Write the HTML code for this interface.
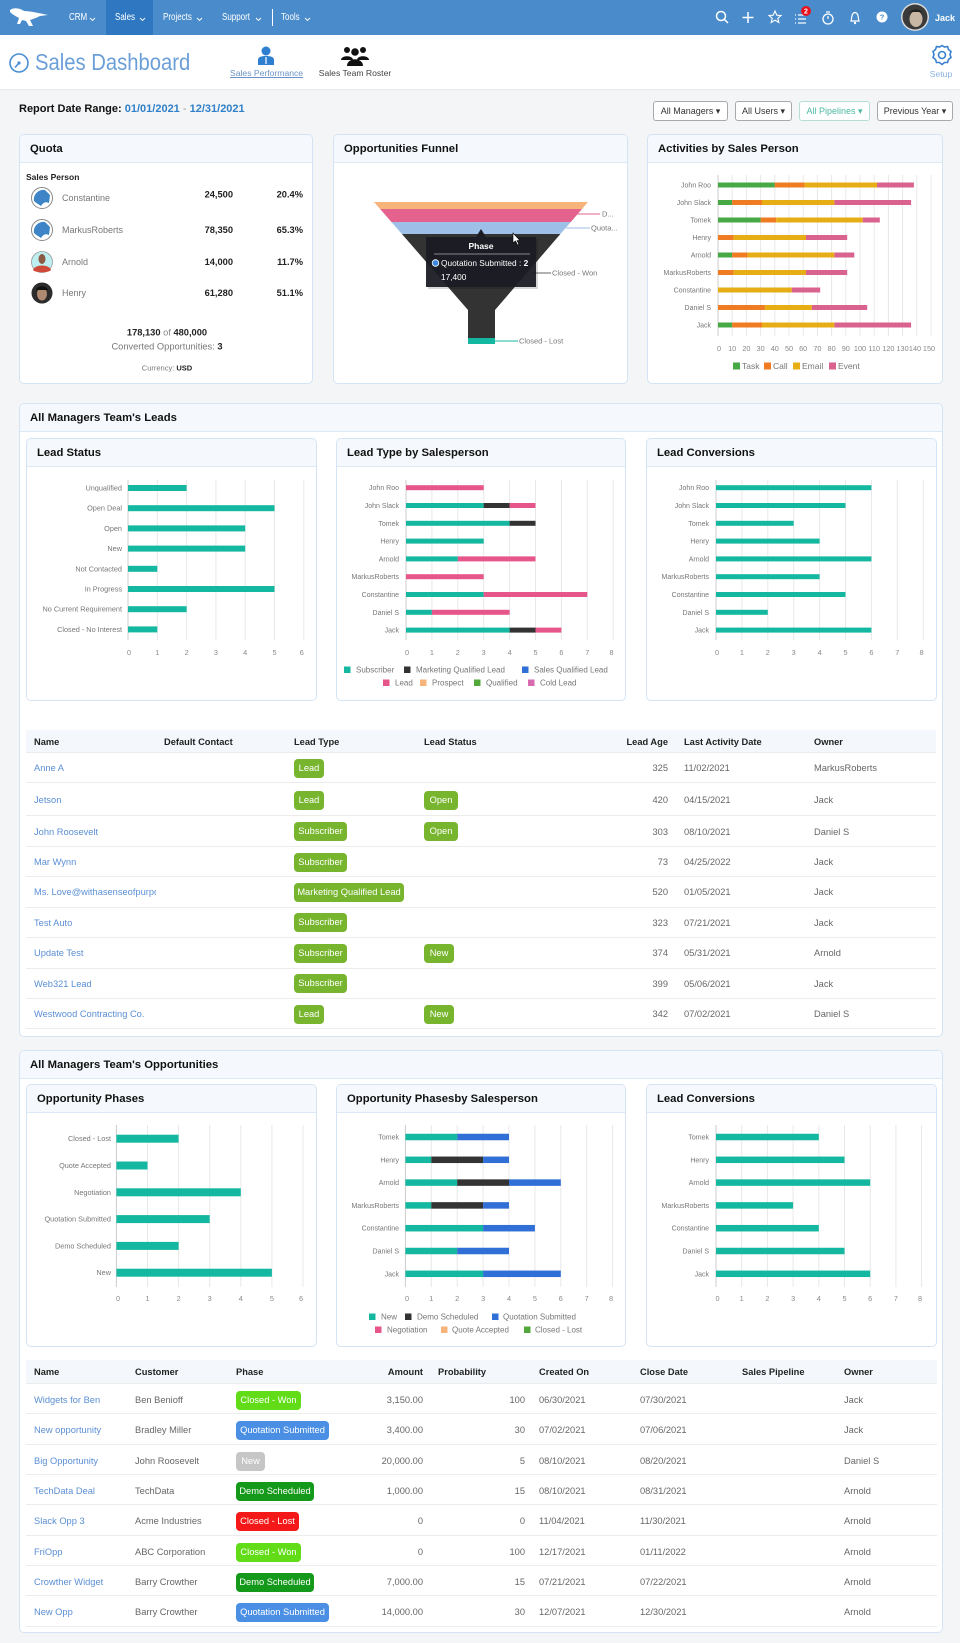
<!DOCTYPE html>
<html><head><meta charset="utf-8">
<style>
*{margin:0;padding:0;box-sizing:border-box}
body{width:960px;height:1643px;background:#f4f5f6;font-family:"Liberation Sans",sans-serif;position:relative;overflow:hidden;color:#333}
.a{position:absolute}
.nt{position:absolute;top:12px;color:#fff;font-size:10px;line-height:12px;white-space:nowrap;transform:scaleX(0.8);transform-origin:left top}
.panel{position:absolute;background:#fff;border:1px solid #d4e4f4;border-radius:5px;overflow:hidden}
.ph{position:absolute;left:0;top:0;right:0;height:28px;background:#f5f9fd;border-bottom:1px solid #dce9f6}
.pt{position:absolute;left:10px;top:0;line-height:28px;font-size:11.3px;font-weight:bold;color:#111;white-space:nowrap}
.c{position:absolute;font-size:9.3px;line-height:12px;white-space:nowrap;color:#666}
.l{color:#5b8fd4}
.h{font-weight:bold;color:#222}
.b{position:absolute;height:19px;line-height:19px;border-radius:4px;color:#fff;font-size:9.3px;text-align:center;white-space:nowrap}
.g{background:#78b52e}
.btn{position:absolute;top:101px;height:20px;line-height:18px;border:1px solid #a9a9a9;border-radius:3px;background:#fff;font-size:9px;color:#333;text-align:center;white-space:nowrap}
.row{position:absolute;left:26px;width:910px;border-bottom:1px solid #ececec}
</style></head><body>

<!-- NAV -->
<div class="a" style="left:0;top:0;width:960px;height:35px;background:#4a8ccb"></div>
<div class="a" style="left:106px;top:0;width:47px;height:35px;background:#2f78c1"></div>
<div class="nt" style="left:69px">CRM</div>
<div class="nt" style="left:115px">Sales</div>
<div class="nt" style="left:163px">Projects</div>
<div class="nt" style="left:222px">Support</div>
<div class="a" style="left:272px;top:9px;width:1px;height:17px;background:#fff"></div>
<div class="nt" style="left:281px">Tools</div>
<div class="a" style="left:935px;top:12px;color:#fff;font-weight:bold;font-size:9px;line-height:12px">Jack</div>

<!-- header -->
<div class="a" style="left:0;top:35px;width:960px;height:55px;background:#fff;border-bottom:1px solid #e8e8e8"></div>
<div class="a" style="left:35px;top:48px;font-size:23px;color:#6a9fd8;white-space:nowrap;transform:scaleX(0.88);transform-origin:left top;line-height:28px">Sales Dashboard</div>
<div class="a" style="left:230px;top:68px;width:72px;text-align:center;font-size:8.6px;color:#6b93c7;text-decoration:underline;white-space:nowrap">Sales Performance</div>
<div class="a" style="left:318px;top:68px;width:74px;text-align:center;font-size:8.6px;color:#444;white-space:nowrap">Sales Team Roster</div>
<div class="a" style="left:926px;top:69px;width:30px;text-align:center;font-size:8.6px;color:#8ab0de">Setup</div>

<div class="a" style="left:19px;top:103px;font-size:11px;font-weight:bold;color:#111;white-space:nowrap">Report Date Range: <span style="color:#2f80c8">01/01/2021</span> <span style="color:#999;font-weight:normal">-</span> <span style="color:#2f80c8">12/31/2021</span></div>

<div class="btn" style="left:653px;width:75px">All Managers &#9662;</div>
<div class="btn" style="left:735px;width:57px">All Users &#9662;</div>
<div class="btn" style="left:799px;width:71px;color:#4cb8a4;border-color:#b5dfd6">All Pipelines &#9662;</div>
<div class="btn" style="left:877px;width:76px">Previous Year &#9662;</div>

<!-- TOP PANELS -->
<div class="panel" style="left:19px;top:134px;width:294px;height:250px"><div class="ph"></div><div class="pt">Quota</div></div>
<div class="panel" style="left:333px;top:134px;width:295px;height:250px"><div class="ph"></div><div class="pt">Opportunities Funnel</div></div>
<div class="panel" style="left:647px;top:134px;width:296px;height:250px"><div class="ph"></div><div class="pt">Activities by Sales Person</div></div>

<!-- LEADS SECTION -->
<div class="panel" style="left:19px;top:403px;width:924px;height:634px"><div class="ph"></div><div class="pt">All Managers Team's Leads</div></div>
<div class="panel" style="left:26px;top:438px;width:291px;height:263px"><div class="ph"></div><div class="pt">Lead Status</div></div>
<div class="panel" style="left:336px;top:438px;width:290px;height:263px"><div class="ph"></div><div class="pt">Lead Type by Salesperson</div></div>
<div class="panel" style="left:646px;top:438px;width:291px;height:263px"><div class="ph"></div><div class="pt">Lead Conversions</div></div>

<!-- leads table -->
<div class="a" style="left:26px;top:730px;width:910px;height:23px;background:#f4f8fc;border-bottom:1px solid #ececec"></div>
<div class="c h" style="left:34px;top:736px">Name</div>
<div class="c h" style="left:164px;top:736px">Default Contact</div>
<div class="c h" style="left:294px;top:736px">Lead Type</div>
<div class="c h" style="left:424px;top:736px">Lead Status</div>
<div class="c h" style="right:292px;top:736px">Lead Age</div>
<div class="c h" style="left:684px;top:736px">Last Activity Date</div>
<div class="c h" style="left:814px;top:736px">Owner</div>

<div class="row" style="top:753px;height:30px"></div>
<div class="row" style="top:783px;height:33px"></div>
<div class="row" style="top:816px;height:30.5px"></div>
<div class="row" style="top:846.5px;height:30.5px"></div>
<div class="row" style="top:877px;height:30.5px"></div>
<div class="row" style="top:907.5px;height:30.5px"></div>
<div class="row" style="top:938px;height:30.5px"></div>
<div class="row" style="top:968.5px;height:30.5px"></div>
<div class="row" style="top:999px;height:30px"></div>

<div class="c l" style="left:34px;top:762px">Anne A</div>
<div class="b g" style="left:294px;top:758.5px;width:30px">Lead</div>
<div class="c" style="right:292px;top:762px">325</div><div class="c" style="left:684px;top:762px">11/02/2021</div><div class="c" style="left:814px;top:762px">MarkusRoberts</div>

<div class="c l" style="left:34px;top:794px">Jetson</div>
<div class="b g" style="left:294px;top:790.5px;width:30px">Lead</div>
<div class="b g" style="left:424px;top:790.5px;width:34px">Open</div>
<div class="c" style="right:292px;top:794px">420</div><div class="c" style="left:684px;top:794px">04/15/2021</div><div class="c" style="left:814px;top:794px">Jack</div>

<div class="c l" style="left:34px;top:825.5px">John Roosevelt</div>
<div class="b g" style="left:294px;top:822px;width:53px">Subscriber</div>
<div class="b g" style="left:424px;top:822px;width:34px">Open</div>
<div class="c" style="right:292px;top:825.5px">303</div><div class="c" style="left:684px;top:825.5px">08/10/2021</div><div class="c" style="left:814px;top:825.5px">Daniel S</div>

<div class="c l" style="left:34px;top:856px">Mar Wynn</div>
<div class="b g" style="left:294px;top:852.5px;width:53px">Subscriber</div>
<div class="c" style="right:292px;top:856px">73</div><div class="c" style="left:684px;top:856px">04/25/2022</div><div class="c" style="left:814px;top:856px">Jack</div>

<div class="c l" style="left:34px;top:886px;width:122px;overflow:hidden">Ms. Love@withasenseofpurpose</div>
<div class="b g" style="left:294px;top:882.5px;width:110px">Marketing Qualified Lead</div>
<div class="c" style="right:292px;top:886px">520</div><div class="c" style="left:684px;top:886px">01/05/2021</div><div class="c" style="left:814px;top:886px">Jack</div>

<div class="c l" style="left:34px;top:916.5px">Test Auto</div>
<div class="b g" style="left:294px;top:913px;width:53px">Subscriber</div>
<div class="c" style="right:292px;top:916.5px">323</div><div class="c" style="left:684px;top:916.5px">07/21/2021</div><div class="c" style="left:814px;top:916.5px">Jack</div>

<div class="c l" style="left:34px;top:947px">Update Test</div>
<div class="b g" style="left:294px;top:943.5px;width:53px">Subscriber</div>
<div class="b g" style="left:424px;top:943.5px;width:30px">New</div>
<div class="c" style="right:292px;top:947px">374</div><div class="c" style="left:684px;top:947px">05/31/2021</div><div class="c" style="left:814px;top:947px">Arnold</div>

<div class="c l" style="left:34px;top:977.5px">Web321 Lead</div>
<div class="b g" style="left:294px;top:974px;width:53px">Subscriber</div>
<div class="c" style="right:292px;top:977.5px">399</div><div class="c" style="left:684px;top:977.5px">05/06/2021</div><div class="c" style="left:814px;top:977.5px">Jack</div>

<div class="c l" style="left:34px;top:1008px">Westwood Contracting Co.</div>
<div class="b g" style="left:294px;top:1004.5px;width:30px">Lead</div>
<div class="b g" style="left:424px;top:1004.5px;width:30px">New</div>
<div class="c" style="right:292px;top:1008px">342</div><div class="c" style="left:684px;top:1008px">07/02/2021</div><div class="c" style="left:814px;top:1008px">Daniel S</div>

<!-- OPPORTUNITIES SECTION -->
<div class="panel" style="left:19px;top:1050px;width:924px;height:583px"><div class="ph"></div><div class="pt">All Managers Team's Opportunities</div></div>
<div class="panel" style="left:26px;top:1084px;width:291px;height:263px"><div class="ph"></div><div class="pt">Opportunity Phases</div></div>
<div class="panel" style="left:336px;top:1084px;width:290px;height:263px"><div class="ph"></div><div class="pt">Opportunity Phasesby Salesperson</div></div>
<div class="panel" style="left:646px;top:1084px;width:291px;height:263px"><div class="ph"></div><div class="pt">Lead Conversions</div></div>

<div class="a" style="left:26px;top:1360px;width:911px;height:24px;background:#f4f8fc;border-bottom:1px solid #ececec"></div>
<div class="c h" style="left:34px;top:1366px">Name</div>
<div class="c h" style="left:135px;top:1366px">Customer</div>
<div class="c h" style="left:236px;top:1366px">Phase</div>
<div class="c h" style="right:537px;top:1366px">Amount</div>
<div class="c h" style="left:438px;top:1366px">Probability</div>
<div class="c h" style="left:539px;top:1366px">Created On</div>
<div class="c h" style="left:640px;top:1366px">Close Date</div>
<div class="c h" style="left:742px;top:1366px">Sales Pipeline</div>
<div class="c h" style="left:844px;top:1366px">Owner</div>

<div class="row" style="top:1384px;height:30.3px;width:911px"></div>
<div class="row" style="top:1414.3px;height:30.4px;width:911px"></div>
<div class="row" style="top:1444.7px;height:30.3px;width:911px"></div>
<div class="row" style="top:1475px;height:30.3px;width:911px"></div>
<div class="row" style="top:1505.3px;height:30.4px;width:911px"></div>
<div class="row" style="top:1535.7px;height:30.3px;width:911px"></div>
<div class="row" style="top:1566px;height:30.3px;width:911px"></div>
<div class="row" style="top:1596.3px;height:30.7px;width:911px"></div>

<div class="c l" style="left:34px;top:1393.7px">Widgets for Ben</div><div class="c" style="left:135px;top:1393.7px">Ben Benioff</div>
<div class="b" style="left:236px;top:1390.5px;width:65px;background:#62dc16">Closed - Won</div>
<div class="c" style="right:537px;top:1393.7px">3,150.00</div><div class="c" style="right:435px;top:1393.7px">100</div><div class="c" style="left:539px;top:1393.7px">06/30/2021</div><div class="c" style="left:640px;top:1393.7px">07/30/2021</div><div class="c" style="left:844px;top:1393.7px">Jack</div>

<div class="c l" style="left:34px;top:1424px">New opportunity</div><div class="c" style="left:135px;top:1424px">Bradley Miller</div>
<div class="b" style="left:236px;top:1420.8px;width:93px;background:#4a8fe4">Quotation Submitted</div>
<div class="c" style="right:537px;top:1424px">3,400.00</div><div class="c" style="right:435px;top:1424px">30</div><div class="c" style="left:539px;top:1424px">07/02/2021</div><div class="c" style="left:640px;top:1424px">07/06/2021</div><div class="c" style="left:844px;top:1424px">Jack</div>

<div class="c l" style="left:34px;top:1454.7px">Big Opportunity</div><div class="c" style="left:135px;top:1454.7px">John Roosevelt</div>
<div class="b" style="left:236px;top:1451.5px;width:29px;background:#c6c6c6">New</div>
<div class="c" style="right:537px;top:1454.7px">20,000.00</div><div class="c" style="right:435px;top:1454.7px">5</div><div class="c" style="left:539px;top:1454.7px">08/10/2021</div><div class="c" style="left:640px;top:1454.7px">08/20/2021</div><div class="c" style="left:844px;top:1454.7px">Daniel S</div>

<div class="c l" style="left:34px;top:1485px">TechData Deal</div><div class="c" style="left:135px;top:1485px">TechData</div>
<div class="b" style="left:236px;top:1481.8px;width:78px;background:#14991a">Demo Scheduled</div>
<div class="c" style="right:537px;top:1485px">1,000.00</div><div class="c" style="right:435px;top:1485px">15</div><div class="c" style="left:539px;top:1485px">08/10/2021</div><div class="c" style="left:640px;top:1485px">08/31/2021</div><div class="c" style="left:844px;top:1485px">Arnold</div>

<div class="c l" style="left:34px;top:1515.3px">Slack Opp 3</div><div class="c" style="left:135px;top:1515.3px">Acme Industries</div>
<div class="b" style="left:236px;top:1512px;width:63px;background:#f41818">Closed - Lost</div>
<div class="c" style="right:537px;top:1515.3px">0</div><div class="c" style="right:435px;top:1515.3px">0</div><div class="c" style="left:539px;top:1515.3px">11/04/2021</div><div class="c" style="left:640px;top:1515.3px">11/30/2021</div><div class="c" style="left:844px;top:1515.3px">Arnold</div>

<div class="c l" style="left:34px;top:1546px">FriOpp</div><div class="c" style="left:135px;top:1546px">ABC Corporation</div>
<div class="b" style="left:236px;top:1542.8px;width:65px;background:#62dc16">Closed - Won</div>
<div class="c" style="right:537px;top:1546px">0</div><div class="c" style="right:435px;top:1546px">100</div><div class="c" style="left:539px;top:1546px">12/17/2021</div><div class="c" style="left:640px;top:1546px">01/11/2022</div><div class="c" style="left:844px;top:1546px">Arnold</div>

<div class="c l" style="left:34px;top:1576.3px">Crowther Widget</div><div class="c" style="left:135px;top:1576.3px">Barry Crowther</div>
<div class="b" style="left:236px;top:1573px;width:78px;background:#14991a">Demo Scheduled</div>
<div class="c" style="right:537px;top:1576.3px">7,000.00</div><div class="c" style="right:435px;top:1576.3px">15</div><div class="c" style="left:539px;top:1576.3px">07/21/2021</div><div class="c" style="left:640px;top:1576.3px">07/22/2021</div><div class="c" style="left:844px;top:1576.3px">Arnold</div>

<div class="c l" style="left:34px;top:1606.3px">New Opp</div><div class="c" style="left:135px;top:1606.3px">Barry Crowther</div>
<div class="b" style="left:236px;top:1603px;width:93px;background:#4a8fe4">Quotation Submitted</div>
<div class="c" style="right:537px;top:1606.3px">14,000.00</div><div class="c" style="right:435px;top:1606.3px">30</div><div class="c" style="left:539px;top:1606.3px">12/07/2021</div><div class="c" style="left:640px;top:1606.3px">12/30/2021</div><div class="c" style="left:844px;top:1606.3px">Arnold</div>

<!-- SVG OVERLAY -->
<svg class="a" style="left:0;top:0" width="960" height="1643" viewBox="0 0 960 1643" font-family="Liberation Sans, sans-serif">
<!-- nav chevrons -->
<g fill="none" stroke="#fff" stroke-width="0.9">
<polyline points="90,18 92.5,20.5 95,18"/><polyline points="140,18 142.5,20.5 145,18"/><polyline points="197,18 199.5,20.5 202,18"/><polyline points="256,18 258.5,20.5 261,18"/><polyline points="305,18 307.5,20.5 310,18"/>
</g>
<!-- logo -->
<path d="M10,10 C14,7 20,8 24,11 C30,11 38,13 48,15 L40,16 C36,18 33,19 30,20 L33,26 L29,26 L26,21 L22,20 L20,24 L17,24 L19,18 C15,16 12,14 10,12 Z" fill="#fff"/>
<!-- right icons -->
<g fill="none" stroke="#fff" stroke-width="1.5">
<circle cx="721" cy="16" r="4.5"/><line x1="724.5" y1="19.5" x2="728" y2="23"/>
<line x1="748" y1="12" x2="748" y2="23"/><line x1="742.5" y1="17.5" x2="753.5" y2="17.5"/>
<polygon stroke-width="1.1" points="775,11 776.8,15.2 781,15.5 777.8,18.3 778.8,22.5 775,20.2 771.2,22.5 772.2,18.3 769,15.5 773.2,15.2"/>
<g stroke-width="1.2"><line x1="798" y1="15" x2="806" y2="15"/><line x1="798" y1="19" x2="806" y2="19"/><line x1="798" y1="23" x2="806" y2="23"/><line x1="795" y1="15" x2="796" y2="15"/><line x1="795" y1="19" x2="796" y2="19"/><line x1="795" y1="23" x2="796" y2="23"/></g>
<circle cx="828" cy="19" r="5" stroke-width="1.3"/><line x1="828" y1="19" x2="828" y2="16" stroke-width="1.2"/><line x1="826" y1="12" x2="830" y2="12" stroke-width="1.2"/>
<path d="M851,21 C852,19 851,13 855,12.5 C859,13 858,19 859,21 Z" stroke-width="1.2"/>
</g>
<circle cx="806" cy="11" r="5" fill="#e8121d"/><text x="806" y="13.5" font-size="7" fill="#fff" text-anchor="middle" font-weight="bold">2</text>
<circle cx="855" cy="23" r="1.2" fill="#fff"/>
<circle cx="882" cy="17" r="5.5" fill="#fff"/><text x="882" y="19.6" font-size="7.5" fill="#4a8ccb" text-anchor="middle" font-weight="bold">?</text>
<circle cx="915" cy="17" r="14" fill="#d9d9d9"/><circle cx="915" cy="17" r="12.5" fill="#3a3a3a"/><ellipse cx="916" cy="19" rx="6.5" ry="8" fill="#c9b7a6"/><path d="M909,14 C910,8 922,8 923,14 L921,12 L911,12 Z" fill="#222"/>
<!-- header icons -->
<circle cx="19" cy="63" r="9" fill="none" stroke="#4a8fd4" stroke-width="1.6"/><line x1="19" y1="63" x2="15" y2="67.5" stroke="#4a8fd4" stroke-width="1.6"/><circle cx="19" cy="63" r="1.6" fill="#4a8fd4"/>
<circle cx="266" cy="51" r="4.5" fill="#2e7fd0"/><path d="M258,65 L258,60 C258,57 261,56 266,56 C271,56 274,57 274,60 L274,65 Z" fill="#2e7fd0"/><line x1="266" y1="57" x2="266" y2="64" stroke="#fff" stroke-width="1.2"/>
<g fill="#111"><circle cx="347" cy="50" r="3"/><circle cx="363" cy="50" r="3"/><circle cx="355" cy="52" r="3.8"/><path d="M341,60 C341,55 353,55 353,60 Z"/><path d="M357,60 C357,55 369,55 369,60 Z"/><path d="M347,66 C347,57 363,57 363,66 Z"/></g>
<g fill="none" stroke="#3a80d0" stroke-width="1.6"><circle cx="942" cy="55" r="3.5"/><path d="M942,45.5 L944.5,47 L947.5,46.5 L948.5,49.5 L951,51.5 L950,54.5 L951,57.5 L948.5,59.5 L947.5,62.5 L944.5,62.5 L942,64.5 L939.5,62.5 L936.5,62.5 L935.5,59.5 L933,57.5 L934,54.5 L933,51.5 L935.5,49.5 L936.5,46.5 L939.5,47 Z"/></g>

<!-- QUOTA -->
<text x="26" y="180" font-size="8.5" font-weight="bold" fill="#222">Sales Person</text>
<circle cx="42" cy="198" r="10.5" fill="#fff" stroke="#888" stroke-width="1"/><path d="M34,201 C33,193 40,189 45,190 L50,195 L49,203 C45,201 43,203 41,206 C38,204 36,203 34,201 Z" fill="#3d85c6"/>
<circle cx="42" cy="230" r="10.5" fill="#fff" stroke="#888" stroke-width="1"/><path d="M34,233 C33,225 40,221 45,222 L50,227 L49,235 C45,233 43,235 41,238 C38,236 36,235 34,233 Z" fill="#3d85c6"/>
<circle cx="42" cy="262" r="10.5" fill="#bdeef0" stroke="#999" stroke-width="0.8"/><path d="M33,270 C35,264 49,264 51,270 C49,273 35,273 33,270 Z" fill="#d04a3a"/><ellipse cx="42" cy="259" rx="3.5" ry="5" fill="#8a5a44"/>
<circle cx="42" cy="293" r="10.5" fill="#2c2c2c"/><ellipse cx="42" cy="294" rx="5" ry="6.5" fill="#b08a70"/><path d="M36,290 C37,285 47,285 48,290 Z" fill="#111"/>
<g font-size="9" fill="#777"><text x="62" y="201">Constantine</text><text x="62" y="233">MarkusRoberts</text><text x="62" y="265">Arnold</text><text x="62" y="296">Henry</text></g>
<g font-size="9.3" fill="#222" font-weight="bold" text-anchor="end">
<text x="233" y="197.5">24,500</text><text x="233" y="233">78,350</text><text x="233" y="265">14,000</text><text x="233" y="296">61,280</text>
<text x="303" y="197.5">20.4%</text><text x="303" y="233">65.3%</text><text x="303" y="265">11.7%</text><text x="303" y="296">51.1%</text>
</g>
<text x="167" y="335.5" font-size="9.3" text-anchor="middle" fill="#222" font-weight="bold">178,130 <tspan font-weight="normal" fill="#888">of</tspan> 480,000</text>
<text x="167" y="349.5" font-size="9.3" text-anchor="middle" fill="#777">Converted Opportunities: <tspan font-weight="bold" fill="#222">3</tspan></text>
<text x="167" y="370.5" font-size="7.5" text-anchor="middle" fill="#777">Currency: <tspan font-weight="bold" fill="#222">USD</tspan></text>

<!-- FUNNEL -->
<polygon points="374,202 588,202 582,209 380.1,209" fill="#f6b47a"/>
<polygon points="380.1,209 582,209 570.8,222 391.4,222" fill="#e4628d"/>
<polygon points="391.4,222 570.8,222 560.4,234 401.9,234" fill="#9dbfe8"/>
<polygon points="401.9,234 560.4,234 495,310 495,338 468,338 468,310" fill="#333"/>
<rect x="468" y="338" width="27" height="6" fill="#14b8a0"/>
<g stroke-width="1"><line x1="566" y1="214" x2="600" y2="214" stroke="#e4628d"/><line x1="566" y1="228" x2="590" y2="228" stroke="#9dbfe8"/><line x1="532" y1="273" x2="551" y2="273" stroke="#666"/><line x1="495" y1="341" x2="518" y2="341" stroke="#14b8a0"/></g>
<g font-size="7.5" fill="#777"><text x="602" y="216.5">D...</text><text x="591" y="230.5">Quota...</text><text x="552" y="275.5">Closed - Won</text><text x="519" y="343.5">Closed - Lost</text></g>
<rect x="428" y="239" width="110" height="50" fill="#000" opacity="0.15"/>
<rect x="426" y="237" width="110" height="50" fill="#1c1d24" opacity="0.94"/>
<polygon points="476,237 481,229 486,237" fill="#1c1d24"/>
<text x="481" y="249" font-size="8.5" font-weight="bold" fill="#fff" text-anchor="middle">Phase</text>
<line x1="434" y1="254" x2="530" y2="254" stroke="#888" stroke-width="1"/>
<circle cx="435.5" cy="263" r="3.3" fill="#3a86e0" stroke="#fff" stroke-width="0.8"/>
<text x="441" y="266" font-size="8.3" fill="#fff">Quotation Submitted : <tspan font-weight="bold">2</tspan></text>
<text x="441" y="280" font-size="8.3" fill="#fff">17,400</text>
<path d="M513,233 L513,243 L515.5,241 L517.5,245 L519,244.3 L517,240.5 L520,240.5 Z" fill="#fff" stroke="#000" stroke-width="0.6"/>

<!-- ACTIVITIES -->
<path d="M732.2,175V336M746.4,175V336M760.6,175V336M774.8,175V336M789,175V336M803.2,175V336M817.4,175V336M831.6,175V336M845.8,175V336M860,175V336M874.2,175V336M888.4,175V336M902.6,175V336M916.8,175V336M931,175V336" stroke="#e8e8e8" stroke-width="1"/>
<path d="M718,175V336" stroke="#ccc" stroke-width="1"/>
<g font-size="7" fill="#777" text-anchor="end">
<text x="711" y="187.5">John Roo</text><text x="711" y="205">John Slack</text><text x="711" y="222.5">Tomek</text><text x="711" y="240">Henry</text><text x="711" y="257.5">Arnold</text><text x="711" y="275">MarkusRoberts</text><text x="711" y="292.5">Constantine</text><text x="711" y="310">Daniel S</text><text x="711" y="327.5">Jack</text>
</g>
<g font-size="7.3" fill="#888" text-anchor="middle">
<text x="719" y="351">0</text><text x="732.2" y="351">10</text><text x="746.4" y="351">20</text><text x="760.6" y="351">30</text><text x="774.8" y="351">40</text><text x="789" y="351">50</text><text x="803.2" y="351">60</text><text x="817.4" y="351">70</text><text x="831.6" y="351">80</text><text x="845.8" y="351">90</text><text x="860" y="351">100</text><text x="874.2" y="351">110</text><text x="888.4" y="351">120</text><text x="902.6" y="351">130</text><text x="915" y="351">140</text><text x="929" y="351">150</text>
</g>
<g>
<rect x="718" y="182.5" width="56.8" height="5" fill="#47a945"/><rect x="774.8" y="182.5" width="29.8" height="5" fill="#ef7b22"/><rect x="804.6" y="182.5" width="72.4" height="5" fill="#e6ad14"/><rect x="877" y="182.5" width="36.9" height="5" fill="#d9628e"/>
<rect x="718" y="200" width="14.2" height="5" fill="#47a945"/><rect x="732.2" y="200" width="29.8" height="5" fill="#ef7b22"/><rect x="762" y="200" width="72.4" height="5" fill="#e6ad14"/><rect x="834.4" y="200" width="76.7" height="5" fill="#d9628e"/>
<rect x="718" y="217.5" width="42.6" height="5" fill="#47a945"/><rect x="760.6" y="217.5" width="15.6" height="5" fill="#ef7b22"/><rect x="776.2" y="217.5" width="86.6" height="5" fill="#e6ad14"/><rect x="862.8" y="217.5" width="17" height="5" fill="#d9628e"/>
<rect x="718" y="235" width="15.6" height="5" fill="#ef7b22"/><rect x="733.6" y="235" width="72.4" height="5" fill="#e6ad14"/><rect x="806" y="235" width="41.2" height="5" fill="#d9628e"/>
<rect x="718" y="252.5" width="14.2" height="5" fill="#47a945"/><rect x="732.2" y="252.5" width="15.6" height="5" fill="#ef7b22"/><rect x="747.8" y="252.5" width="86.6" height="5" fill="#e6ad14"/><rect x="834.4" y="252.5" width="19.9" height="5" fill="#d9628e"/>
<rect x="718" y="270" width="15.6" height="5" fill="#ef7b22"/><rect x="733.6" y="270" width="72.4" height="5" fill="#e6ad14"/><rect x="806" y="270" width="41.2" height="5" fill="#d9628e"/>
<rect x="718" y="287.5" width="73.8" height="5" fill="#e6ad14"/><rect x="791.8" y="287.5" width="28.4" height="5" fill="#d9628e"/>
<rect x="718" y="305" width="46.9" height="5" fill="#ef7b22"/><rect x="764.9" y="305" width="46.9" height="5" fill="#e6ad14"/><rect x="811.8" y="305" width="55.4" height="5" fill="#d9628e"/>
<rect x="718" y="322.5" width="14.2" height="5" fill="#47a945"/><rect x="732.2" y="322.5" width="29.8" height="5" fill="#ef7b22"/><rect x="762" y="322.5" width="72.4" height="5" fill="#e6ad14"/><rect x="834.4" y="322.5" width="76.7" height="5" fill="#d9628e"/>
</g>
<g font-size="8.5" fill="#777">
<rect x="733" y="362.5" width="7" height="7" fill="#47a945"/><text x="742" y="369">Task</text>
<rect x="764" y="362.5" width="7" height="7" fill="#ef7b22"/><text x="773" y="369">Call</text>
<rect x="793" y="362.5" width="7" height="7" fill="#e6ad14"/><text x="802" y="369">Email</text>
<rect x="829" y="362.5" width="7" height="7" fill="#d9628e"/><text x="838" y="369">Event</text>
</g>

<!-- LEAD STATUS -->
<path d="M157.3,480V640M186.6,480V640M215.9,480V640M245.2,480V640M274.5,480V640M303.8,480V640" stroke="#e8e8e8" stroke-width="1"/>
<path d="M128,480V640" stroke="#ccc"/>
<g font-size="7.3" fill="#777" text-anchor="end">
<text x="122" y="490.5">Unqualified</text><text x="122" y="510.7">Open Deal</text><text x="122" y="530.9">Open</text><text x="122" y="551.1">New</text><text x="122" y="571.3">Not Contacted</text><text x="122" y="591.5">In Progress</text><text x="122" y="611.7">No Current Requirement</text><text x="122" y="631.9">Closed - No Interest</text>
</g>
<g fill="#14b8a0">
<rect x="128" y="485" width="58.6" height="6"/><rect x="128" y="505.2" width="146.5" height="6"/><rect x="128" y="525.4" width="117.2" height="6"/><rect x="128" y="545.6" width="117.2" height="6"/><rect x="128" y="565.8" width="29.3" height="6"/><rect x="128" y="586" width="146.5" height="6"/><rect x="128" y="606.2" width="58.6" height="6"/><rect x="128" y="626.4" width="29.3" height="6"/>
</g>
<g font-size="7.3" fill="#888" text-anchor="middle">
<text x="129" y="655">0</text><text x="157.3" y="655">1</text><text x="186.6" y="655">2</text><text x="215.9" y="655">3</text><text x="245.2" y="655">4</text><text x="274.5" y="655">5</text><text x="301.8" y="655">6</text>
</g>

<!-- LEAD TYPE -->
<path d="M431.9,480V640M457.8,480V640M483.7,480V640M509.6,480V640M535.5,480V640M561.4,480V640M587.3,480V640M613.2,480V640" stroke="#e8e8e8"/>
<path d="M406,480V640" stroke="#ccc"/>
<g font-size="7" fill="#777" text-anchor="end">
<text x="399" y="490.2">John Roo</text><text x="399" y="508">John Slack</text><text x="399" y="525.8">Tomek</text><text x="399" y="543.6">Henry</text><text x="399" y="561.4">Arnold</text><text x="399" y="579.2">MarkusRoberts</text><text x="399" y="597">Constantine</text><text x="399" y="614.8">Daniel S</text><text x="399" y="632.6">Jack</text>
</g>
<g>
<rect x="406" y="485.2" width="77.7" height="5" fill="#e7568a"/>
<rect x="406" y="503" width="77.7" height="5" fill="#14b8a0"/><rect x="483.7" y="503" width="25.9" height="5" fill="#333"/><rect x="509.6" y="503" width="25.9" height="5" fill="#e7568a"/>
<rect x="406" y="520.8" width="103.6" height="5" fill="#14b8a0"/><rect x="509.6" y="520.8" width="25.9" height="5" fill="#333"/>
<rect x="406" y="538.6" width="77.7" height="5" fill="#14b8a0"/>
<rect x="406" y="556.4" width="51.8" height="5" fill="#14b8a0"/><rect x="457.8" y="556.4" width="77.7" height="5" fill="#e7568a"/>
<rect x="406" y="574.2" width="77.7" height="5" fill="#e7568a"/>
<rect x="406" y="592" width="77.7" height="5" fill="#14b8a0"/><rect x="483.7" y="592" width="103.6" height="5" fill="#e7568a"/>
<rect x="406" y="609.8" width="25.9" height="5" fill="#14b8a0"/><rect x="431.9" y="609.8" width="77.7" height="5" fill="#e7568a"/>
<rect x="406" y="627.6" width="103.6" height="5" fill="#14b8a0"/><rect x="509.6" y="627.6" width="25.9" height="5" fill="#333"/><rect x="535.5" y="627.6" width="25.9" height="5" fill="#e7568a"/>
</g>
<g font-size="7.3" fill="#888" text-anchor="middle">
<text x="407" y="655">0</text><text x="431.9" y="655">1</text><text x="457.8" y="655">2</text><text x="483.7" y="655">3</text><text x="509.6" y="655">4</text><text x="535.5" y="655">5</text><text x="561.4" y="655">6</text><text x="587.3" y="655">7</text><text x="611.5" y="655">8</text>
</g>
<g font-size="8" fill="#777">
<rect x="344" y="666.5" width="6.5" height="6.5" fill="#14b8a0"/><text x="356" y="672.5">Subscriber</text>
<rect x="404" y="666.5" width="6.5" height="6.5" fill="#333"/><text x="416" y="672.5">Marketing Qualified Lead</text>
<rect x="522" y="666.5" width="6.5" height="6.5" fill="#2f6fd6"/><text x="534" y="672.5">Sales Qualified Lead</text>
<rect x="383" y="679.5" width="6.5" height="6.5" fill="#e7568a"/><text x="395" y="685.5">Lead</text>
<rect x="420" y="679.5" width="6.5" height="6.5" fill="#f6b47a"/><text x="432" y="685.5">Prospect</text>
<rect x="474" y="679.5" width="6.5" height="6.5" fill="#52a83a"/><text x="486" y="685.5">Qualified</text>
<rect x="528" y="679.5" width="6.5" height="6.5" fill="#d86ab0"/><text x="540" y="685.5">Cold Lead</text>
</g>

<!-- LEAD CONVERSIONS -->
<path d="M741.9,480V640M767.8,480V640M793.7,480V640M819.6,480V640M845.5,480V640M871.4,480V640M897.3,480V640M923.2,480V640" stroke="#e8e8e8"/>
<path d="M716,480V640" stroke="#ccc"/>
<g font-size="7" fill="#777" text-anchor="end">
<text x="709" y="490.2">John Roo</text><text x="709" y="508">John Slack</text><text x="709" y="525.8">Tomek</text><text x="709" y="543.6">Henry</text><text x="709" y="561.4">Arnold</text><text x="709" y="579.2">MarkusRoberts</text><text x="709" y="597">Constantine</text><text x="709" y="614.8">Daniel S</text><text x="709" y="632.6">Jack</text>
</g>
<g fill="#14b8a0">
<rect x="716" y="485.2" width="155.4" height="5"/><rect x="716" y="503" width="129.5" height="5"/><rect x="716" y="520.8" width="77.7" height="5"/><rect x="716" y="538.6" width="103.6" height="5"/><rect x="716" y="556.4" width="155.4" height="5"/><rect x="716" y="574.2" width="103.6" height="5"/><rect x="716" y="592" width="129.5" height="5"/><rect x="716" y="609.8" width="51.8" height="5"/><rect x="716" y="627.6" width="155.4" height="5"/>
</g>
<g font-size="7.3" fill="#888" text-anchor="middle">
<text x="717" y="655">0</text><text x="741.9" y="655">1</text><text x="767.8" y="655">2</text><text x="793.7" y="655">3</text><text x="819.6" y="655">4</text><text x="845.5" y="655">5</text><text x="871.4" y="655">6</text><text x="897.3" y="655">7</text><text x="921.5" y="655">8</text>
</g>

<!-- OPP PHASES -->
<path d="M147.5,1125V1287M178.6,1125V1287M209.7,1125V1287M240.8,1125V1287M271.9,1125V1287M303,1125V1287" stroke="#e8e8e8"/>
<path d="M116.4,1125V1287" stroke="#ccc"/>
<g font-size="7.3" fill="#777" text-anchor="end">
<text x="111" y="1141.2">Closed - Lost</text><text x="111" y="1168">Quote Accepted</text><text x="111" y="1194.8">Negotiation</text><text x="111" y="1221.6">Quotation Submitted</text><text x="111" y="1248.4">Demo Scheduled</text><text x="111" y="1275.2">New</text>
</g>
<g fill="#14b8a0">
<rect x="116.4" y="1134.7" width="62.2" height="8"/><rect x="116.4" y="1161.5" width="31.1" height="8"/><rect x="116.4" y="1188.3" width="124.4" height="8"/><rect x="116.4" y="1215.1" width="93.3" height="8"/><rect x="116.4" y="1241.9" width="62.2" height="8"/><rect x="116.4" y="1268.7" width="155.5" height="8"/>
</g>
<g font-size="7.3" fill="#888" text-anchor="middle">
<text x="118" y="1301">0</text><text x="147.5" y="1301">1</text><text x="178.6" y="1301">2</text><text x="209.7" y="1301">3</text><text x="240.8" y="1301">4</text><text x="271.9" y="1301">5</text><text x="301" y="1301">6</text>
</g>

<!-- OPP BY SALESPERSON -->
<path d="M431.3,1125V1287M457.2,1125V1287M483.1,1125V1287M509,1125V1287M534.9,1125V1287M560.8,1125V1287M586.7,1125V1287M612.6,1125V1287" stroke="#e8e8e8"/>
<path d="M405.4,1125V1287" stroke="#ccc"/>
<g font-size="7" fill="#777" text-anchor="end">
<text x="399" y="1139.5">Tomek</text><text x="399" y="1162.3">Henry</text><text x="399" y="1185.1">Arnold</text><text x="399" y="1207.9">MarkusRoberts</text><text x="399" y="1230.7">Constantine</text><text x="399" y="1253.5">Daniel S</text><text x="399" y="1276.3">Jack</text>
</g>
<g>
<rect x="405.4" y="1133.75" width="51.8" height="6.5" fill="#14b8a0"/><rect x="457.2" y="1133.75" width="51.8" height="6.5" fill="#2f6fd6"/>
<rect x="405.4" y="1156.55" width="25.9" height="6.5" fill="#14b8a0"/><rect x="431.3" y="1156.55" width="51.8" height="6.5" fill="#333"/><rect x="483.1" y="1156.55" width="25.9" height="6.5" fill="#2f6fd6"/>
<rect x="405.4" y="1179.35" width="51.8" height="6.5" fill="#14b8a0"/><rect x="457.2" y="1179.35" width="51.8" height="6.5" fill="#333"/><rect x="509" y="1179.35" width="51.8" height="6.5" fill="#2f6fd6"/>
<rect x="405.4" y="1202.15" width="25.9" height="6.5" fill="#14b8a0"/><rect x="431.3" y="1202.15" width="51.8" height="6.5" fill="#333"/><rect x="483.1" y="1202.15" width="25.9" height="6.5" fill="#2f6fd6"/>
<rect x="405.4" y="1224.95" width="77.7" height="6.5" fill="#14b8a0"/><rect x="483.1" y="1224.95" width="51.8" height="6.5" fill="#2f6fd6"/>
<rect x="405.4" y="1247.75" width="51.8" height="6.5" fill="#14b8a0"/><rect x="457.2" y="1247.75" width="51.8" height="6.5" fill="#2f6fd6"/>
<rect x="405.4" y="1270.55" width="77.7" height="6.5" fill="#14b8a0"/><rect x="483.1" y="1270.55" width="77.7" height="6.5" fill="#2f6fd6"/>
</g>
<g font-size="7.3" fill="#888" text-anchor="middle">
<text x="407" y="1301">0</text><text x="431.3" y="1301">1</text><text x="457.2" y="1301">2</text><text x="483.1" y="1301">3</text><text x="509" y="1301">4</text><text x="534.9" y="1301">5</text><text x="560.8" y="1301">6</text><text x="586.7" y="1301">7</text><text x="611" y="1301">8</text>
</g>
<g font-size="8" fill="#777">
<rect x="369" y="1313.5" width="6.5" height="6.5" fill="#14b8a0"/><text x="381" y="1319.5">New</text>
<rect x="405" y="1313.5" width="6.5" height="6.5" fill="#333"/><text x="417" y="1319.5">Demo Scheduled</text>
<rect x="492" y="1313.5" width="6.5" height="6.5" fill="#2f6fd6"/><text x="503" y="1319.5">Quotation Submitted</text>
<rect x="375" y="1326.5" width="6.5" height="6.5" fill="#e7568a"/><text x="387" y="1332.5">Negotiation</text>
<rect x="441" y="1326.5" width="6.5" height="6.5" fill="#f6b47a"/><text x="452" y="1332.5">Quote Accepted</text>
<rect x="524" y="1326.5" width="6.5" height="6.5" fill="#52a83a"/><text x="535" y="1332.5">Closed - Lost</text>
</g>

<!-- LEAD CONVERSIONS 2 -->
<path d="M741.7,1125V1287M767.4,1125V1287M793.1,1125V1287M818.8,1125V1287M844.5,1125V1287M870.2,1125V1287M895.9,1125V1287M921.6,1125V1287" stroke="#e8e8e8"/>
<path d="M716,1125V1287" stroke="#ccc"/>
<g font-size="7" fill="#777" text-anchor="end">
<text x="709" y="1139.5">Tomek</text><text x="709" y="1162.3">Henry</text><text x="709" y="1185.1">Arnold</text><text x="709" y="1207.9">MarkusRoberts</text><text x="709" y="1230.7">Constantine</text><text x="709" y="1253.5">Daniel S</text><text x="709" y="1276.3">Jack</text>
</g>
<g fill="#14b8a0">
<rect x="716" y="1133.75" width="102.8" height="6.5"/><rect x="716" y="1156.55" width="128.5" height="6.5"/><rect x="716" y="1179.35" width="154.2" height="6.5"/><rect x="716" y="1202.15" width="77.1" height="6.5"/><rect x="716" y="1224.95" width="102.8" height="6.5"/><rect x="716" y="1247.75" width="128.5" height="6.5"/><rect x="716" y="1270.55" width="154.2" height="6.5"/>
</g>
<g font-size="7.3" fill="#888" text-anchor="middle">
<text x="717.5" y="1301">0</text><text x="741.7" y="1301">1</text><text x="767.4" y="1301">2</text><text x="793.1" y="1301">3</text><text x="818.8" y="1301">4</text><text x="844.5" y="1301">5</text><text x="870.2" y="1301">6</text><text x="895.9" y="1301">7</text><text x="920" y="1301">8</text>
</g>
</svg>
</body></html>
